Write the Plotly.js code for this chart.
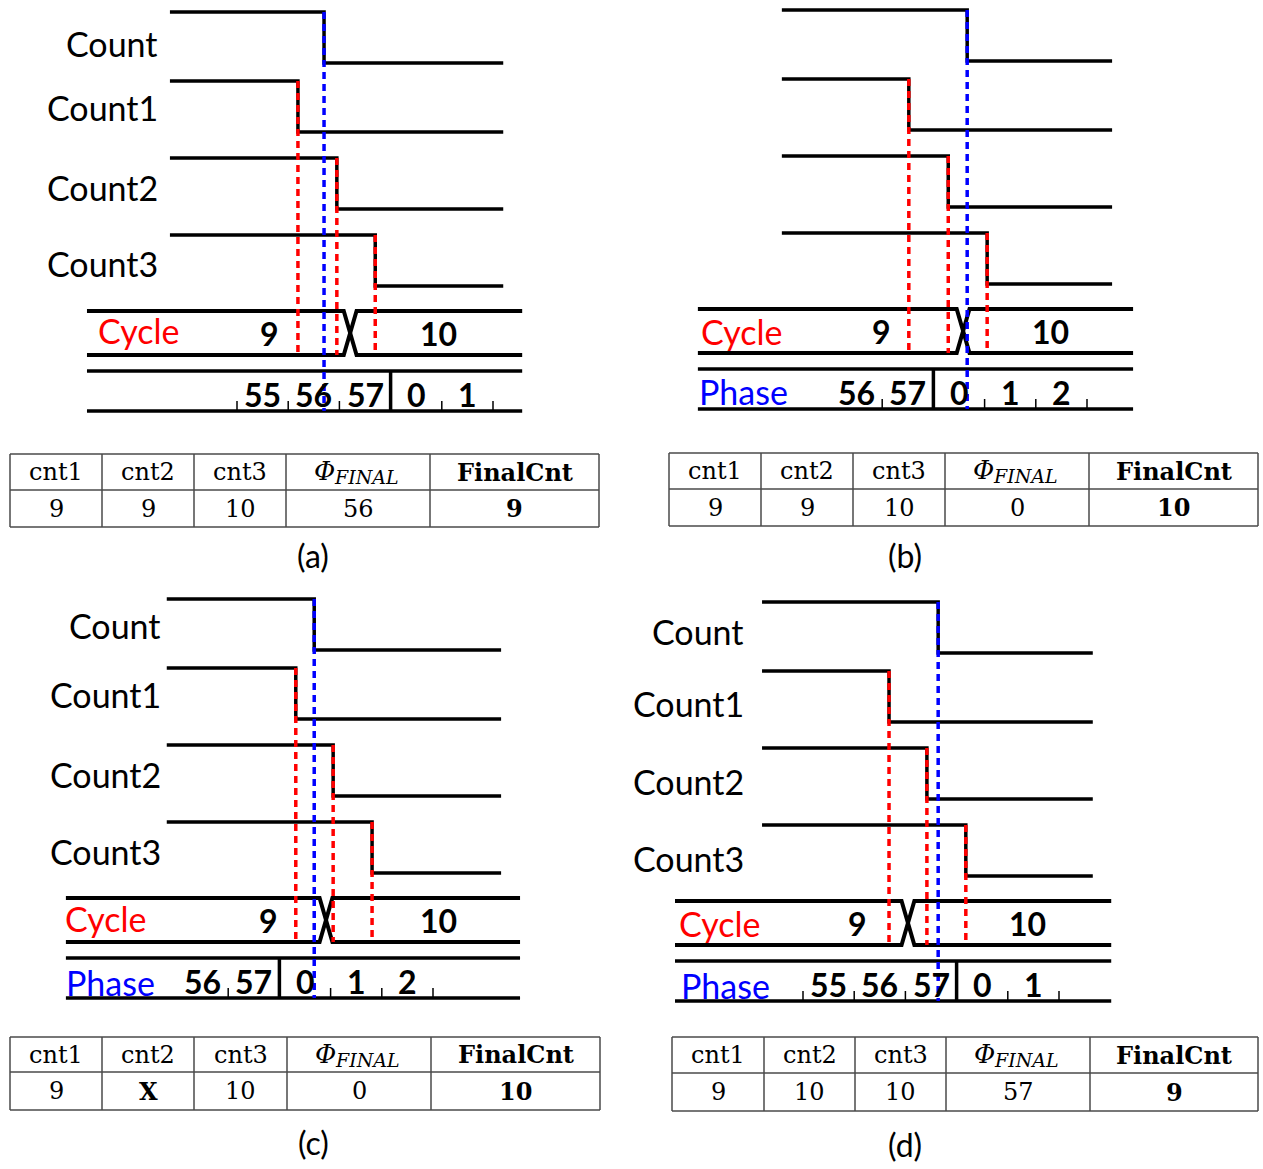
<!DOCTYPE html>
<html><head><meta charset="utf-8">
<script src="https://cdn.plot.ly/plotly-3.0.1.min.js"></script>
<style>body{margin:0;background:#fff}#chart{width:1263px;height:1169px}</style>
</head><body><div id="chart"></div>
<script>
// ================= DATA =================
const panelTags = ['(a)', '(b)', '(c)', '(d)'];
const signalNames = ['Count', 'Count1', 'Count2', 'Count3'];
const cycleValues = ['9', '10'];
// phase labels (one per phase-clock cell; cell k spans [k, k+1])
const phaseA = ['55', '56', '57', '0', '1'];
const phaseB = ['56', '57', '0', '1', '2'];
const phaseC = ['56', '57', '0', '1', '2'];
const phaseD = ['55', '56', '57', '0', '1'];
// cell boundary where phase wraps to 0
const wrapA = 3, wrapB = 2, wrapC = 2, wrapD = 3;
// phase-clock tick boundaries shown
const ticksA = [0, 1, 2, 4, 5];
const ticksB = [1, 3, 4, 5];
const ticksC = [1, 3, 4, 5];
const ticksD = [0, 1, 2, 4, 5];
// falling-edge times (phase-clock units) of Count, Count1, Count2, Count3
const edgesA = [1.70, 1.19, 1.95, 2.70];
const edgesB = [2.66, 1.52, 2.29, 3.05];
const edgesC = [2.68, 2.32, 3.05, 3.81];
const edgesD = [2.64, 1.68, 2.42, 3.18];
// Cycle bus transition 9 -> 10 (phase-clock units)
const cycleEdges = [2.21, 2.58, 2.91, 2.05];
// tables
const tableHeader = ['cnt1', 'cnt2', 'cnt3', 'Φ|FINAL', 'FinalCnt'];
const tableA = ['9', '9', '10', '56', '9'];
const tableB = ['9', '9', '10', '0', '10'];
const tableC = ['9', 'X', '10', '0', '10'];
const tableD = ['9', '10', '10', '57', '9'];

// ================= LAYOUT GEOMETRY =================
const W = 1263, H = 1169, UNIT = 51.2;
const originPx = [237, 831, 177, 803];       // pixel of t = 0 in each panel
const yOff = [0, -2, 587, 590];
const waveSpan = [[-1.31, 5.2], [-0.96, 5.49], [-0.2, 6.33], [-0.8, 5.66]];
const busSpan = [[-2.93, 5.57], [-2.6, 5.9], [-2.17, 6.7], [-2.5, 6.02]];
const HIGH = [12, 81, 158, 235], LOW = [63, 132, 209, 286];
const CYC = [311, 355], PHS = [371, 411];
const HW = 0.125;
const sigLabelX = [160, null, 163, 746];
const sigLabelY = [[43, 107, 187, 263], null, [625, 694, 774, 851], [631, 703, 781, 858]];
const cycleLabelPos = [[96, 330], [699, 331], [63, 918], [677, 923]];
const phaseLabelPos = [null, [697, 391], [64, 982], [679, 985]];
const cycleValT = [[0.64, 3.93], [0.98, 4.28], [1.78, 5.1], [1.07, 4.39]];
const tableX = [[10, 102, 194, 286, 430, 599], [669, 761, 853, 945, 1089, 1258],
                [10, 102, 194, 287, 431, 600], [672, 764, 855, 946, 1090, 1258]];
const tableY = [[454, 490, 527], [453, 489, 526], [1037, 1072, 1110], [1037, 1073, 1111]];
const tagPos = [[313, 555], [905, 555], [313, 1142], [905, 1144]];

const phases = [phaseA, phaseB, phaseC, phaseD];
const wraps = [wrapA, wrapB, wrapC, wrapD];
const ticks = [ticksA, ticksB, ticksC, ticksD];
const edges = [edgesA, edgesB, edgesC, edgesD];
const tables = [tableA, tableB, tableC, tableD];

const traces = [];
const annotations = [];
function addLine(xs, ys, xa, color, width, dash) {
  traces.push({type: 'scatter', mode: 'lines', x: xs, y: ys, xaxis: xa, yaxis: 'y',
    line: {color: color, width: width, dash: dash || 'solid'}, hoverinfo: 'skip',
    showlegend: false, connectgaps: false});
}
function addText(text, x, y, xa, opts) {
  annotations.push(Object.assign({text: text, x: x, y: y, xref: xa, yref: 'y',
    showarrow: false, xanchor: 'center', yanchor: 'middle',
    font: {family: 'Lato', size: 32, color: '#000'}}, opts || {}));
}
const boldDigits = {family: 'Lato', size: 32, color: '#000', weight: 'bold'};

const layout = {
  width: W, height: H, margin: {l: 0, r: 0, t: 0, b: 0},
  paper_bgcolor: '#fff', plot_bgcolor: '#fff', showlegend: false,
  xaxis: {range: [0, W], visible: false, fixedrange: true},
  yaxis: {range: [H, 0], visible: false, fixedrange: true}
};

for (let p = 0; p < 4; p++) {
  const xa = 'x' + (p + 2);
  const o = yOff[p];
  layout['xaxis' + (p + 2)] = {range: [-originPx[p] / UNIT, (W - originPx[p]) / UNIT],
    overlaying: 'x', anchor: 'y', visible: false, fixedrange: true};
  const e = edges[p];
  // waveforms
  const wx = [], wy = [];
  for (let i = 0; i < 4; i++) {
    wx.push(waveSpan[p][0], e[i], e[i], waveSpan[p][1], null);
    wy.push(HIGH[i] + o, HIGH[i] + o, LOW[i] + o, LOW[i] + o, null);
  }
  addLine(wx, wy, xa, '#000', 3.5);
  // cycle bus
  const c = cycleEdges[p], b0 = busSpan[p][0], b1 = busSpan[p][1];
  const ct = CYC[0] + o, cb = CYC[1] + o;
  addLine([b0, c - HW, c + HW, b1, null, b0, c - HW, c + HW, b1],
          [ct, ct, cb, cb, null, cb, cb, ct, ct], xa, '#000', 4);
  // phase bus
  const pt = PHS[0] + o, pb = PHS[1] + o;
  addLine([b0, b1, null, b0, b1, null, wraps[p], wraps[p]],
          [pt, pt, null, pb, pb, null, pt, pb], xa, '#000', 3.5);
  const tx = [], ty = [];
  ticks[p].forEach(t => { tx.push(t, t, null); ty.push(pb - 10, pb, null); });
  addLine(tx, ty, xa, '#000', 1.5);
  // dashed markers
  const rx = [], ry = [];
  for (let i = 1; i < 4; i++) { rx.push(e[i], e[i], null); ry.push(HIGH[i] + o, cb, null); }
  addLine(rx, ry, xa, '#ff0000', 3.5, '7px,5px');
  addLine([e[0], e[0]], [HIGH[0] + o, pb], xa, '#0000ff', 3.5, '7px,5px');

  // phase labels
  phases[p].forEach((lab, k) => addText(lab, k + 0.5, pb - 17, xa, {font: boldDigits}));
  // cycle values
  cycleValues.forEach((v, k) => addText(v, cycleValT[p][k], (ct + cb) / 2, xa, {font: boldDigits}));
  // names
  if (sigLabelX[p] !== null) {
    signalNames.forEach((n, i) => addText(n, sigLabelX[p], sigLabelY[p][i], 'x',
      {xanchor: 'right', font: {family: 'Lato', size: 34, color: '#000'}}));
  }
  addText('Cycle', cycleLabelPos[p][0], cycleLabelPos[p][1], 'x',
    {xanchor: 'left', font: {family: 'Lato', size: 34, color: '#ff0000'}});
  if (phaseLabelPos[p]) {
    addText('Phase', phaseLabelPos[p][0], phaseLabelPos[p][1], 'x',
      {xanchor: 'left', font: {family: 'Lato', size: 34, color: '#0000ff'}});
  }

  // table
  const TX = tableX[p], TY = tableY[p];
  const gx = [], gy = [];
  TY.forEach(y => { gx.push(TX[0], TX[TX.length - 1], null); gy.push(y, y, null); });
  TX.forEach(x => { gx.push(x, x, null); gy.push(TY[0], TY[2], null); });
  addLine(gx, gy, 'x', '#4a4a4a', 1.5);
  const hy = (TY[0] + TY[1]) / 2, vy = (TY[1] + TY[2]) / 2;
  for (let j = 0; j < 5; j++) {
    const cx = (TX[j] + TX[j + 1]) / 2;
    const f = {family: 'DejaVu Serif', size: 24, color: '#000'};
    const fb = {family: 'DejaVu Serif', size: 24, color: '#000', weight: 'bold'};
    const h = tableHeader[j];
    if (h.indexOf('|') >= 0) {
      const parts = h.split('|');
      addText(parts[0], cx - 21, hy - 1, 'x',
        {xanchor: 'right', font: {family: 'DejaVu Serif', size: 26, color: '#000', style: 'italic'}});
      addText(parts[1], cx - 26, hy + 5, 'x',
        {xanchor: 'left', font: {family: 'DejaVu Serif', size: 19, color: '#000', style: 'italic'}});
    } else {
      addText(h, cx, hy, 'x', {font: j === 4 ? fb : f});
    }
    const v = tables[p][j];
    addText(v, cx, vy, 'x', {font: (j === 4 || v === 'X') ? fb : f});
  }
  addText(panelTags[p], tagPos[p][0], tagPos[p][1], 'x',
    {font: {family: 'Lato', size: 32, color: '#000'}});
}
layout.annotations = annotations;

Plotly.newPlot('chart', traces, layout, {staticPlot: true, displayModeBar: false});
</script>
</body></html>
